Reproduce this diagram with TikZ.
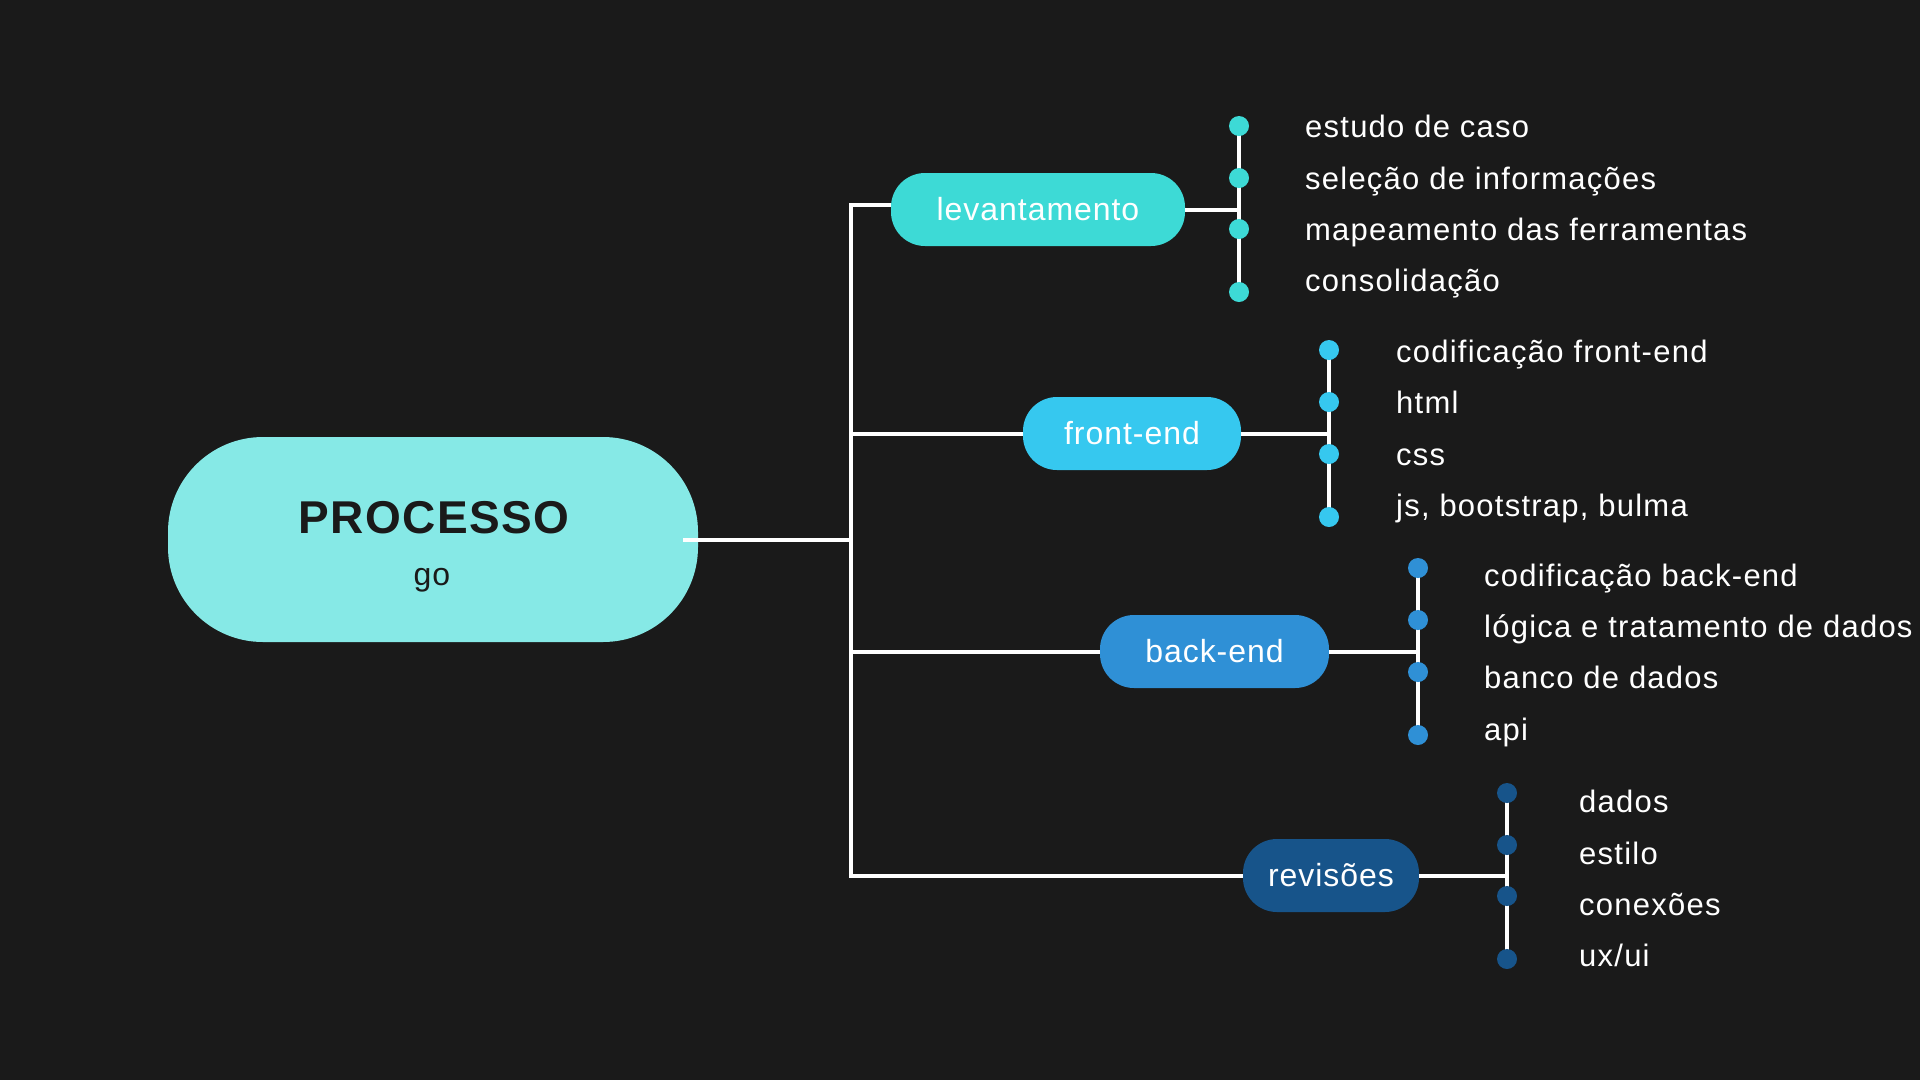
\documentclass[tikz,border=0pt]{standalone}
\usepackage{fontspec}
\setmainfont{Liberation Sans}
\newfontfamily\itemfont[LetterSpace=4]{Liberation Sans}
\newfontfamily\nodefont[LetterSpace=3]{Liberation Sans}
\newfontfamily\titlefont[LetterSpace=3]{Liberation Sans}
\definecolor{bg}{HTML}{1A1A1A}
\definecolor{cmain}{HTML}{86E9E6}
\definecolor{clev}{HTML}{3DDAD6}
\definecolor{cfront}{HTML}{36C8EF}
\definecolor{cback}{HTML}{2F90D6}
\definecolor{crev}{HTML}{17548A}
\tikzset{
  branch/.style={rounded corners=34pt, minimum height=73pt, inner sep=0pt, text=white,
    font=\nodefont\fontsize{32}{38}\selectfont, text height=22.5pt, text depth=0pt},
  dot/.style={circle, minimum size=20pt, inner sep=0pt},
  item/.style={anchor=base west, inner sep=0pt, text=white, font=\itemfont\fontsize{31}{36}\selectfont},
  wire/.style={draw=white, line width=4pt},
}
\begin{document}
\begin{tikzpicture}[x=1pt,y=-1pt]
\fill[bg] (0,0) rectangle (1920,1080);
\useasboundingbox (0,0) rectangle (1920,1080);

% main node
\node[fill=cmain, rounded corners=95pt, minimum width=530pt, minimum height=205pt, inner sep=0pt] (main) at (433,539.5) {};
\node[anchor=base, inner sep=0pt, text=bg, font=\titlefont\bfseries\fontsize{46}{50}\selectfont] (title) at (434,533) {PROCESSO};
\node[anchor=base, inner sep=0pt, text=bg, font=\nodefont\fontsize{32}{36}\selectfont] (sub) at (432,585) {go};

% branch nodes
\node[branch, fill=clev, minimum width=294pt] (lev) at (1038,209.5) {levantamento};
\node[branch, fill=cfront, minimum width=218pt] (front) at (1132,433.5) {front-end};
\node[branch, fill=cback, minimum width=229pt] (back) at (1214.5,651.5) {back-end};
\node[branch, fill=crev, minimum width=176pt] (rev) at (1331,875.5) {revisões};

% trunk
\coordinate (trunkx) at (851,0);
\draw[wire] ([yshift=4.5pt]lev.west) -| (trunkx |- rev.west) -- (rev.west);
\draw[wire] (front.west) -- (trunkx |- front.west);
\draw[wire] (back.west) -- (trunkx |- back.west);
\draw[wire] ([xshift=-15pt]main.east) -- (trunkx |- main.east);

% group 1: levantamento
\coordinate (b1) at (1239,0);
\draw[wire] (lev.east) -- (b1 |- lev.east);
\draw[wire] (1239,126) -- (1239,292);
\node[dot, fill=clev] (d11) at (1239,126) {};
\node[dot, fill=clev] (d12) at (1239,178) {};
\node[dot, fill=clev] (d13) at (1239,229) {};
\node[dot, fill=clev] (d14) at (1239,292) {};
\node[item] (i11) at (1305,137) {estudo de caso};
\node[item] (i12) at (1305,189) {seleção de informações};
\node[item] (i13) at (1305,240) {mapeamento das ferramentas};
\node[item] (i14) at (1305,291) {consolidação};

% group 2: front-end
\coordinate (b2) at (1329,0);
\draw[wire] (front.east) -- (b2 |- front.east);
\draw[wire] (1329,350) -- (1329,517);
\node[dot, fill=cfront] (d21) at (1329,350) {};
\node[dot, fill=cfront] (d22) at (1329,402) {};
\node[dot, fill=cfront] (d23) at (1329,454) {};
\node[dot, fill=cfront] (d24) at (1329,517) {};
\node[item] (i21) at (1396,362) {codificação front-end};
\node[item] (i22) at (1396,413) {html};
\node[item] (i23) at (1396,465) {css};
\node[item] (i24) at (1396,516) {js, bootstrap, bulma};

% group 3: back-end
\coordinate (b3) at (1418,0);
\draw[wire] (back.east) -- (b3 |- back.east);
\draw[wire] (1418,568) -- (1418,735);
\node[dot, fill=cback] (d31) at (1418,568) {};
\node[dot, fill=cback] (d32) at (1418,620) {};
\node[dot, fill=cback] (d33) at (1418,672) {};
\node[dot, fill=cback] (d34) at (1418,735) {};
\node[item] (i31) at (1484,586) {codificação back-end};
\node[item] (i32) at (1484,637) {lógica e tratamento de dados};
\node[item] (i33) at (1484,688) {banco de dados};
\node[item] (i34) at (1484,740) {api};

% group 4: revisoes
\coordinate (b4) at (1507,0);
\draw[wire] (rev.east) -- (b4 |- rev.east);
\draw[wire] (1507,793) -- (1507,959);
\node[dot, fill=crev] (d41) at (1507,793) {};
\node[dot, fill=crev] (d42) at (1507,845) {};
\node[dot, fill=crev] (d43) at (1507,896) {};
\node[dot, fill=crev] (d44) at (1507,959) {};
\node[item] (i41) at (1579,812) {dados};
\node[item] (i42) at (1579,864) {estilo};
\node[item] (i43) at (1579,915) {conexões};
\node[item] (i44) at (1579,966) {ux/ui};
\end{tikzpicture}
\end{document}
